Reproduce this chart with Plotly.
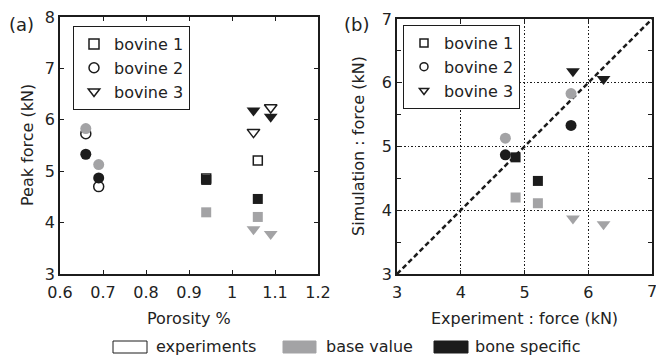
import plotly.graph_objects as go

# ---- data ----
bovines = ["bovine 1", "bovine 2", "bovine 3"]
symbols_open = ["square-open", "circle-open", "triangle-down-open"]
symbols_fill = ["square", "circle", "triangle-down"]

porosity = {
    "bovine 1": [0.94, 1.06],
    "bovine 2": [0.66, 0.69],
    "bovine 3": [1.05, 1.09],
}
experiment = {
    "bovine 1": [4.86, 5.21],
    "bovine 2": [5.73, 4.70],
    "bovine 3": [5.76, 6.24],
}
base_value = {
    "bovine 1": [4.20, 4.11],
    "bovine 2": [5.83, 5.13],
    "bovine 3": [3.87, 3.78],
}
bone_specific = {
    "bovine 1": [4.83, 4.46],
    "bovine 2": [5.33, 4.87],
    "bovine 3": [6.18, 6.06],
}
diag = [3, 7]
xb_ticks = [3, 4, 5, 6, 7]

GREY = "#a3a3a5"
BLACK = "#1c1c1c"
FONT = "DejaVu Sans"
W, H = 656, 358

sizes = {"square": 10, "circle": 11, "triangle-down": 12}

fig = go.Figure()

# Panel (a)
for b, so, sf in zip(bovines, symbols_open, symbols_fill):
    fig.add_trace(go.Scatter(
        x=porosity[b], y=experiment[b], mode="markers", xaxis="x", yaxis="y",
        marker=dict(symbol=sf, size=sizes[sf] - 1, color="white",
                    line=dict(color=BLACK, width=1.5)),
        showlegend=False))
for b, sf in zip(bovines, symbols_fill):
    fig.add_trace(go.Scatter(
        x=porosity[b], y=base_value[b], mode="markers", xaxis="x", yaxis="y",
        marker=dict(symbol=sf, size=sizes[sf], color=GREY, line=dict(width=0)),
        showlegend=False))
for b, sf in zip(bovines, symbols_fill):
    fig.add_trace(go.Scatter(
        x=porosity[b], y=bone_specific[b], mode="markers", xaxis="x", yaxis="y",
        marker=dict(symbol=sf, size=sizes[sf], color=BLACK, line=dict(width=0)),
        showlegend=False))

# Panel (b)
fig.add_trace(go.Scatter(x=diag, y=diag, mode="lines", xaxis="x2", yaxis="y2",
                         line=dict(color=BLACK, width=2.5, dash="5px,3px"),
                         showlegend=False))
for b, sf in zip(bovines, symbols_fill):
    fig.add_trace(go.Scatter(
        x=experiment[b], y=base_value[b], mode="markers", xaxis="x2", yaxis="y2",
        marker=dict(symbol=sf, size=sizes[sf], color=GREY, line=dict(width=0)),
        showlegend=False))
for b, sf in zip(bovines, symbols_fill):
    fig.add_trace(go.Scatter(
        x=experiment[b], y=bone_specific[b], mode="markers", xaxis="x2", yaxis="y2",
        marker=dict(symbol=sf, size=sizes[sf], color=BLACK, line=dict(width=0)),
        showlegend=False))

# legend entries
for b, so in zip(bovines, symbols_open):
    fig.add_trace(go.Scatter(x=[None], y=[None], mode="markers", name=b,
                             xaxis="x", yaxis="y", legend="legend",
                             marker=dict(symbol=so, size=10, color=BLACK,
                                         line=dict(width=1.5))))
for b, so in zip(bovines, symbols_open):
    fig.add_trace(go.Scatter(x=[None], y=[None], mode="markers", name=b,
                             xaxis="x2", yaxis="y2", legend="legend2",
                             marker=dict(symbol=so, size=8, color=BLACK,
                                         line=dict(width=1.5))))

axis_common = dict(showline=True, linecolor=BLACK, linewidth=1.5, mirror="ticks",
                   ticks="inside", ticklen=4, tickcolor=BLACK, tickwidth=1,
                   zeroline=False, automargin=False, ticklabeloverflow="allow",
                   tickfont=dict(family=FONT, size=16, color="#222"))

xa = (60 / W, 318 / W)
xb = (397 / W, 652 / W)
ya = (1 - 274 / H, 1 - 17 / H)
yb = (1 - 274 / H, 1 - 19 / H)

fig.update_layout(
    width=W, height=H, margin=dict(l=0, r=0, t=0, b=0),
    paper_bgcolor="white", plot_bgcolor="white",
    font=dict(family=FONT, size=16, color="#222"),
    xaxis=dict(domain=xa, range=[0.6, 1.2], tickvals=[0.6, 0.7, 0.8, 0.9, 1, 1.1, 1.2],
               ticktext=["0.6", "0.7", "0.8", "0.9", "1", "1.1", "1.2"],
               showgrid=False, anchor="y", ticklabelstandoff=3, **axis_common),
    yaxis=dict(domain=ya, range=[3, 8], dtick=1, showgrid=False, anchor="x",
               **axis_common),
    xaxis2=dict(domain=xb, range=[3, 7], tickvals=xb_ticks[:-1], anchor="y2",
                ticklabelstandoff=3,
                showgrid=True, gridcolor=BLACK, gridwidth=1.2, griddash="1.5px,2px",
                **axis_common),
    yaxis2=dict(domain=yb, range=[3, 7], dtick=1, anchor="x2",
                showgrid=True, gridcolor=BLACK, gridwidth=1.2, griddash="1.5px,2px",
                minor=dict(dtick=0.5, ticks="inside", ticklen=4, tickcolor=BLACK,
                           showgrid=False),
                **axis_common),
    legend=dict(x=73 / W, y=1 - 26 / H, xanchor="left", yanchor="top",
                bordercolor=BLACK, borderwidth=1, bgcolor="white",
                font=dict(family=FONT, size=16, color="#222"), tracegroupgap=0),
    legend2=dict(x=403 / W, y=1 - 25 / H, xanchor="left", yanchor="top",
                 bordercolor=BLACK, borderwidth=1, bgcolor="white",
                 font=dict(family=FONT, size=16, color="#222"), tracegroupgap=0),
)

def ann(text, x, y, size=16, angle=0, xanchor="center"):
    fig.add_annotation(text=text, x=x / W, y=1 - y / H, xref="paper", yref="paper",
                       showarrow=False, textangle=angle, xanchor=xanchor,
                       yanchor="middle",
                       font=dict(family=FONT, size=size, color="#222"))

ann("(a)", 21, 25, size=18)
ann("(b)", 356, 25, size=18)
ann("Peak force (kN)", 27, 145, angle=-90)
ann("Simulation : force (kN)", 358, 146, angle=-90)
ann("Porosity %", 189, 318)
ann("Experiment : force (kN)", 524, 318)

# last tick label of panel (b) x axis (partly cut by the page edge, as in the original)
fig.add_annotation(text=str(xb_ticks[-1]), x=xb_ticks[-1], xref="x2",
                   y=1 - 291 / H, yref="paper", showarrow=False,
                   xanchor="center", yanchor="middle",
                   font=dict(family=FONT, size=16, color="#222"))

# bottom legend
swatches = [("experiments", "white", 113, 147, 154),
            ("base value", GREY, 283, 316, 324),
            ("bone specific", BLACK, 434, 468, 473)]
for label, col, x0, x1, tx in swatches:
    fig.add_shape(type="rect", xref="paper", yref="paper",
                  x0=x0 / W, x1=x1 / W, y0=1 - 353 / H, y1=1 - 341 / H,
                  fillcolor=col, line=dict(color=BLACK if col == "white" else col, width=1))
    ann(label, tx, 346, xanchor="left")

fig.write_html("out.html")
